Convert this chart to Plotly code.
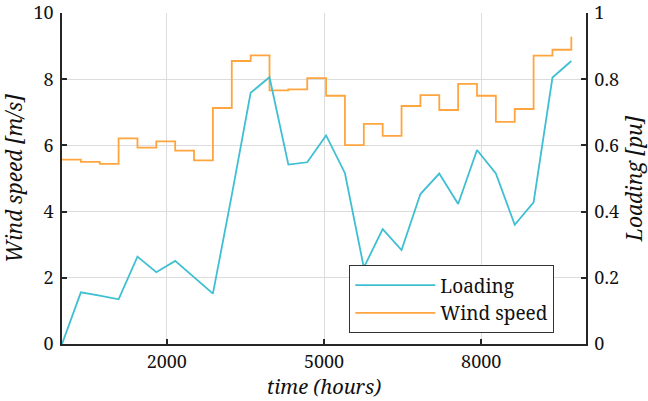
import plotly.graph_objects as go

# Sampling instants (hours), one every 15 days
hours = [i * 360 for i in range(28)]

# Average wind speed per interval [m/s]
wind_speed = [5.57, 5.50, 5.44, 6.21, 5.93, 6.12, 5.84, 5.55, 7.13, 8.55,
              8.72, 7.66, 7.69, 8.03, 7.50, 6.01, 6.65, 6.29, 7.19, 7.52,
              7.07, 7.86, 7.50, 6.71, 7.10, 8.71, 8.89, 9.28]

# Line loading [pu]
loading = [0.0, 0.156, 0.146, 0.135, 0.264, 0.217, 0.251, 0.201, 0.152, 0.45,
           0.759, 0.806, 0.542, 0.549, 0.630, 0.516, 0.231, 0.347, 0.284, 0.453,
           0.515, 0.423, 0.586, 0.515, 0.360, 0.428, 0.805, 0.855]

x_ticks = [2000, 5000, 8000]

FONT = "Noto Serif"
AXIS_COLOR = "#262626"
GRID_COLOR = "#dcdcdc"
TEXT_COLOR = "#111111"

tick_font = dict(family=FONT, size=18, color=TEXT_COLOR)
title_font = dict(family=FONT, size=21, style="italic", color=TEXT_COLOR)

fig = go.Figure()
fig.add_trace(go.Scatter(
    x=hours, y=loading, name="Loading", mode="lines",
    line=dict(color="#3fbfd2", width=1.8), yaxis="y2"))
fig.add_trace(go.Scatter(
    x=hours, y=wind_speed, name="Wind speed", mode="lines",
    line=dict(color="#ffa53f", width=1.8, shape="hv"), yaxis="y"))

axis_common = dict(
    showline=True, linecolor=AXIS_COLOR, linewidth=1.5,
    ticks="inside", ticklen=5, tickwidth=1.5, tickcolor=AXIS_COLOR,
    tickfont=tick_font, ticklabeloverflow="allow",
    zeroline=False, automargin=False,
)

fig.update_layout(
    width=648, height=401,
    margin=dict(l=62, r=62, t=13, b=57),
    paper_bgcolor="white", plot_bgcolor="white",
    font=dict(family=FONT, color=TEXT_COLOR),
    xaxis=dict(
        range=[0, 10000], tickvals=x_ticks,
        showgrid=True, gridcolor=GRID_COLOR, gridwidth=1,
        ticklabelstandoff=1,
        title=dict(text="time (hours)", standoff=7,
                   font=dict(family=FONT, size=20, style="italic",
                             color=TEXT_COLOR)),
        **axis_common),
    yaxis=dict(
        range=[0, 10], dtick=2,
        showgrid=True, gridcolor=GRID_COLOR, gridwidth=1,
        ticklabelstandoff=3,
        title=dict(text="Wind speed [m/s]", standoff=8, font=title_font),
        **axis_common),
    yaxis2=dict(
        range=[0, 1], dtick=0.2, overlaying="y", side="right",
        showgrid=False, ticklabelstandoff=3,
        title=dict(text="Loading [pu]", standoff=14, font=title_font),
        **axis_common),
    legend=dict(
        x=0.548, y=0.033, xanchor="left", yanchor="bottom",
        bgcolor="white", bordercolor="#333333", borderwidth=1.2,
        font=dict(family=FONT, size=19, color=TEXT_COLOR),
        itemwidth=80, tracegroupgap=0,
    ),
    showlegend=True,
)

fig.write_html("out.html")
